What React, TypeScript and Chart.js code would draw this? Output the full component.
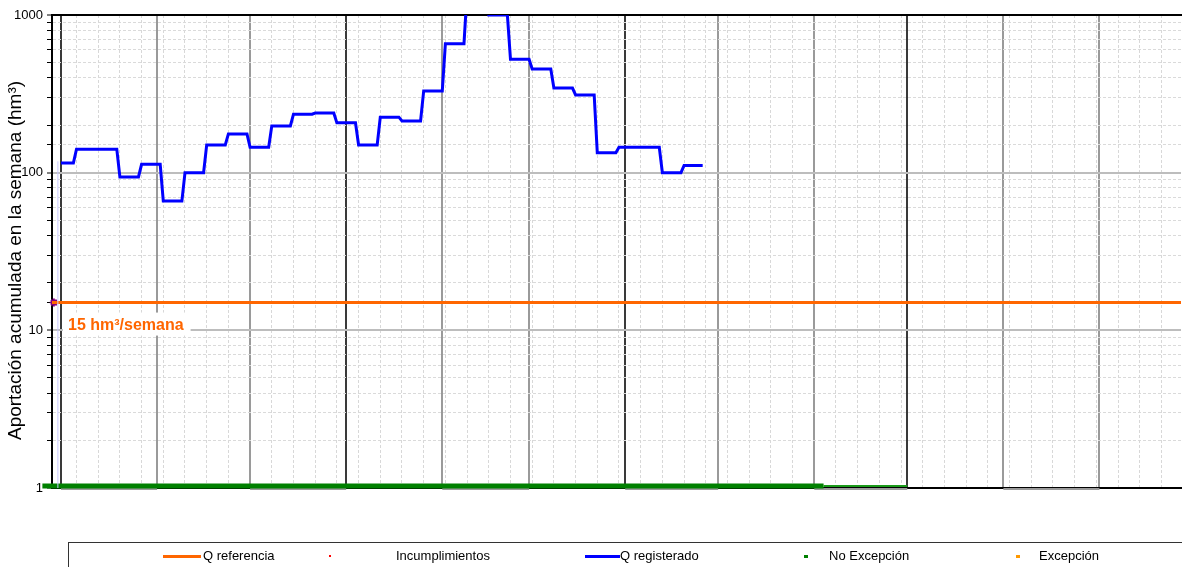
import React, { useEffect, useRef } from "react";
import { Chart, registerables } from "chart.js";

Chart.register(...registerables);

// x values are days counted from 1 October (day 0)
const xMinDay = -2.9;
const xMaxDay = 361.3;

// Q registrado: weekly accumulated volume (hm³)
const weekStartDays = [0, 5, 12, 19, 26, 33, 40, 47, 54, 61, 68, 75, 82, 89, 96, 103, 110, 117, 124, 131, 138, 145, 152, 159, 166, 173, 180, 187, 194, 201];
const weekEndDays = [4, 11, 18, 25, 32, 39, 46, 53, 60, 67, 74, 81, 88, 95, 102, 109, 116, 123, 130, 137, 144, 151, 158, 165, 172, 179, 186, 193, 200, 207];
const weeklyVolume = [115, 141, 141, 94, 113, 66, 100, 150, 176, 145, 198, 235, 239, 207, 150, 225, 213, 330, 658, 1400, 1000, 524, 454, 344, 311, 134, 145, 145, 100, 111];

// Q referencia
const refDays = [-2.9, 361.3];
const refValue = 15;
const refLabel = "15 hm³/semana";

// No Excepción (flag at value ~1)
const noExcThickDays = [-6, 246];
const noExcThinDays = [246, 273];
const noExcValue = 1.03;

// Marker at start
const markerDay = -2.3;
const markerValue = 15;

// faint start line
const startLineDays = [-1, -1];
const startLineValues = [1, 118];

// calendar structure
const monthStartDays = [0, 31, 61, 92, 123, 151, 182, 212, 243, 273, 304, 335, 365];
const quarterStartDays = [0, 92, 182, 273];
const boxedMonthIdx = [0, 2, 4, 6, 8, 10];
const firstWeekGridDay = 5;
const weekGridCount = 52;

const yTickLabels = [1, 10, 100, 1000];
const yTitle = "Aportación acumulada en la semana (hm³)";

const legendItems = [
  { label: "Q referencia", kind: "line", color: "#ff6600", sx: 94, sw: 38, tx: 134 },
  { label: "Incumplimientos", kind: "dot", color: "#ff0000", sx: 260, sw: 2, tx: 327 },
  { label: "Q registerado", kind: "line", color: "#0000ff", sx: 516, sw: 35, tx: 551 },
  { label: "No Excepción", kind: "dash", color: "#008000", sx: 735, sw: 4, tx: 760 },
  { label: "Excepción", kind: "dash", color: "#ff9900", sx: 947, sw: 4, tx: 970 },
];

const FONT = "'Liberation Sans', Arial, sans-serif";

export default function App() {
  const canvasRef = useRef<HTMLCanvasElement | null>(null);

  useEffect(() => {
    const canvas = canvasRef.current;
    if (!canvas) return;

    const regPoints: { x: number; y: number }[] = [];
    weekStartDays.forEach((d, i) => {
      regPoints.push({ x: d, y: weeklyVolume[i] });
      regPoints.push({ x: weekEndDays[i], y: weeklyVolume[i] });
    });

    const weekGridDays: number[] = [];
    for (let k = 0; k < weekGridCount; k++) weekGridDays.push(firstWeekGridDay + 7 * k);

    const decorPlugin = {
      id: "decor",
      beforeDatasetsDraw(chart: any) {
        const { ctx, chartArea, scales } = chart;
        const xs = scales.x;
        ctx.save();
        ctx.strokeStyle = "#9a9a9a";
        ctx.lineWidth = 2;
        boxedMonthIdx.forEach((i) => {
          const a = Math.max(xs.getPixelForValue(monthStartDays[i]), chartArea.left);
          const b = Math.min(xs.getPixelForValue(monthStartDays[i + 1]), chartArea.right);
          ctx.beginPath();
          ctx.moveTo(a, chartArea.bottom + 1);
          ctx.lineTo(b, chartArea.bottom + 1);
          ctx.stroke();
        });
        ctx.restore();
      },
      afterDatasetsDraw(chart: any) {
        const { ctx, chartArea, scales } = chart;
        const yPix = scales.y.getPixelForValue(refValue);
        ctx.save();
        ctx.font = `bold 16px ${FONT}`;
        const w = ctx.measureText(refLabel).width;
        const bx = chartArea.left + 11;
        ctx.fillStyle = "#ffffff";
        ctx.fillRect(bx, yPix + 10, w + 12, 23);
        ctx.fillStyle = "#ff6600";
        ctx.textBaseline = "alphabetic";
        ctx.fillText(refLabel, bx + 5, yPix + 27);
        ctx.restore();
        // y axis title, placed like the reference (slightly below centre)
        ctx.save();
        ctx.font = `19px ${FONT}`;
        ctx.fillStyle = "#000";
        ctx.textAlign = "center";
        ctx.textBaseline = "middle";
        ctx.translate(16, (chartArea.top + chartArea.bottom) / 2 + 9);
        ctx.rotate(-Math.PI / 2);
        ctx.fillText(yTitle, 0, 0);
        ctx.restore();
      },
    };

    const zeroPad = (s: any) => {
      s.height = 0;
      s.paddingLeft = 0;
      s.paddingRight = 0;
    };

    const chart = new Chart(canvas, {
      type: "line",
      data: {
        datasets: [
          {
            label: "start",
            data: startLineDays.map((d, i) => ({ x: d, y: startLineValues[i] })),
            borderColor: "#c8c8ff",
            borderWidth: 1,
            pointRadius: 0,
          },
          {
            label: "No Excepción",
            data: noExcThickDays.map((d) => ({ x: d, y: noExcValue })),
            borderColor: "#008000",
            borderWidth: 5,
            pointRadius: 0,
            clip: false as any,
          },
          {
            label: "No Excepción fin",
            data: noExcThinDays.map((d) => ({ x: d, y: noExcValue })),
            borderColor: "#1a9a1a",
            borderWidth: 2,
            pointRadius: 0,
          },
          {
            label: "Q referencia",
            data: refDays.map((d) => ({ x: d, y: refValue })),
            borderColor: "#ff6600",
            borderWidth: 3,
            pointRadius: 0,
          },
          {
            label: "Q registrado",
            data: regPoints,
            borderColor: "#0000ff",
            borderWidth: 3,
            pointRadius: 0,
            tension: 0,
          },
          {
            label: "Incumplimientos",
            data: [{ x: markerDay, y: markerValue }],
            showLine: false,
            borderColor: "#800080",
            backgroundColor: "#800080",
            pointStyle: "star",
            pointRadius: 4,
            pointBorderColor: "#800080",
            pointBackgroundColor: "#800080",
            pointBorderWidth: 2,
            clip: false as any,
          },
        ],
      },
      options: {
        animation: false,
        responsive: false,
        layout: { padding: { top: 15, bottom: 79, left: 0, right: 0 } },
        plugins: { legend: { display: false }, tooltip: { enabled: false } },
        scales: {
          x: {
            type: "linear",
            position: "bottom",
            min: xMinDay,
            max: xMaxDay,
            afterBuildTicks: (s: any) => {
              s.ticks = weekGridDays.map((v) => ({ value: v }));
            },
            afterFit: zeroPad,
            ticks: { display: false },
            grid: { color: "#d8d8d8", lineWidth: 1, drawTicks: false },
            border: { display: true, color: "#000000", width: 2, dash: [3, 2] },
          },
          x2: {
            type: "linear",
            position: "top",
            min: xMinDay,
            max: xMaxDay,
            afterBuildTicks: (s: any) => {
              s.ticks = monthStartDays.map((v) => ({ value: v }));
            },
            afterFit: zeroPad,
            ticks: { display: false },
            grid: {
              drawTicks: false,
              color: (c: any) => (quarterStartDays.includes(c.tick?.value) ? "#3a3a3a" : "#9a9a9a"),
              lineWidth: 2,
            },
            border: { display: true, color: "#000000", width: 2 },
          },
          y: {
            type: "logarithmic",
            min: 1,
            max: 1000,
            afterFit: (s: any) => {
              s.width = 52;
            },
            ticks: {
              autoSkip: false,
              padding: 4,
              color: "#000",
              font: { family: FONT, size: 13 },
              callback: (v: any) => (yTickLabels.includes(Number(v)) ? String(v) : ""),
            },
            grid: {
              color: (c: any) => (yTickLabels.includes(c.tick?.value) ? "#bdbdbd" : "#dadada"),
              lineWidth: (c: any) => (yTickLabels.includes(c.tick?.value) ? 2 : 1),
              tickColor: "#000",
              tickLength: 5,
              tickWidth: 1,
            },
            border: {
              display: true,
              color: "#000",
              width: 2,
              dash: (c: any) => (yTickLabels.includes(c.tick?.value) ? [] : [3, 2]),
            } as any,
            title: { display: false, text: yTitle },
          },
        },
      } as any,
      plugins: [decorPlugin],
    });

    return () => chart.destroy();
  }, []);

  return (
    <div style={{ position: "absolute", left: 0, top: 0, width: 1182, height: 567, background: "#fff", overflow: "hidden" }}>
      <canvas ref={canvasRef} width={1187} height={567} style={{ display: "block", width: 1187, height: 567 }} />
      <div
        style={{
          position: "absolute",
          left: 68,
          top: 542,
          width: 1130,
          height: 40,
          border: "1px solid #333",
          boxSizing: "border-box",
          fontFamily: FONT,
          fontSize: 13,
          color: "#000",
        }}
      >
        {legendItems.map((it) => (
          <React.Fragment key={it.label}>
            <div
              style={{
                position: "absolute",
                left: it.sx,
                top: 12,
                width: it.sw,
                height: it.kind === "dot" ? 2 : 3,
                background: it.color,
              }}
            />
            <div style={{ position: "absolute", left: it.tx, top: 4, lineHeight: "18px", whiteSpace: "nowrap" }}>{it.label}</div>
          </React.Fragment>
        ))}
      </div>
    </div>
  );
}
